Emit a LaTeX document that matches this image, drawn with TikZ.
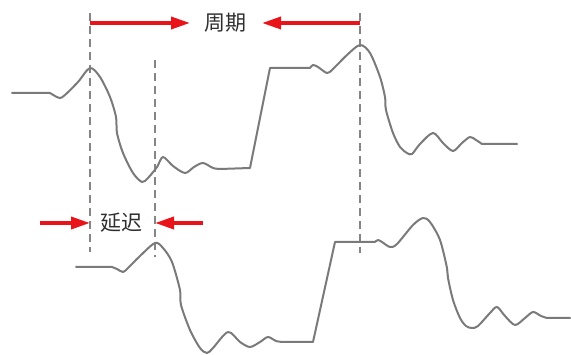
\documentclass[tikz,border=0pt]{standalone}
\usepackage{fontspec}
\newfontfamily\cjkfont{Noto Sans CJK SC}
\usetikzlibrary{arrows.meta}
\definecolor{wavegray}{HTML}{7A7A7A}
\definecolor{dashgray}{HTML}{858585}
\definecolor{arrred}{HTML}{E8141A}
\definecolor{txtgray}{HTML}{2E2E2E}
\tikzset{
  wave/.style={draw=wavegray, line width=2pt, line join=round, line cap=round},
  guide/.style={draw=dashgray, line width=1.7pt, dash pattern=on 8pt off 5pt},
  redarrow/.style={draw=arrred, line width=3.5pt, -{Triangle[length=19pt,width=12pt]}},
  lbl/.style={font=\cjkfont\fontsize{21}{21}\selectfont, text=txtgray, inner sep=0pt}
}
\begin{document}
\begin{tikzpicture}[x=1pt,y=-1pt]
\useasboundingbox (0,0) rectangle (571,355);
% guide lines
\coordinate (g1t) at (90,13);  \coordinate (g1b) at (90,252);
\coordinate (g2t) at (155,60); \coordinate (g2b) at (155,257);
\coordinate (g3t) at (360,13); \coordinate (g3b) at (360,253);
\draw[guide] (g1t) -- (g1b);
\draw[guide] (g2t) -- (g2b);
\draw[guide] (g3t) -- (g3b);
% top waveform
\draw[wave] (12,93) -- (50,93)
  plot[smooth, tension=0.5] coordinates {(50,93) (55,96) (60,98) (65,95) (78,82) (90,68) (100,77) (110,97) (116,117) (117,133) (123,153) (133,173) (142,182) (148,178) (157,167) (163,157) (173,166) (185,173) (194,167) (203,163) (213,168) (220,169)}
  -- (250,168) -- (270,68) -- (310,68)
  plot[smooth, tension=0.5] coordinates {(310,68) (313,65) (318,67) (327,73) (333,69) (347,55) (360,45) (370,53) (380,77) (385,97) (386,110) (393,133) (400,147) (407,153) (412,154) (420,144) (433,133) (443,143) (453,151) (462,143) (470,137) (476,140) (482,144)}
  -- (517,144);
% bottom waveform
\draw[wave] (76,267) -- (112,267)
  plot[smooth, tension=0.5] coordinates {(112,267) (117,269) (123,272) (128,268) (140,256) (155,243) (163,248) (172,262) (180,290) (181,305) (190,330) (200,348) (207,353) (213,348) (228,332) (240,342) (250,347) (260,342) (268,337) (276,341) (283,342)}
  -- (313,342) -- (335,242) -- (375,242)
  plot[smooth, tension=0.5] coordinates {(375,242) (378,240) (382,242) (390,247) (397,244) (413,225) (423,218) (430,222) (440,240) (447,268) (448,278) (453,300) (460,318) (466,326) (472,328) (478,326) (490,313) (497,307) (505,316) (515,325) (525,318) (533,312) (541,316) (547,318)}
  -- (570,318);
% labels
\node[lbl] (period) at (225.5,22.5) {周期};
\node[lbl] (delay) at (121.5,222.5) {延迟};
% arrows
\coordinate (pa1) at (90,23);  \coordinate (pt1) at (190,23);
\coordinate (pa2) at (360,23); \coordinate (pt2) at (262,23);
\coordinate (da1) at (40,223); \coordinate (dt1) at (90,223);
\coordinate (da2) at (203,223); \coordinate (dt2) at (155,223);
\draw[redarrow] (pa1) -- (pt1);
\draw[redarrow] (pa2) -- (pt2);
\draw[redarrow] (da1) -- (dt1);
\draw[redarrow] (da2) -- (dt2);
\end{tikzpicture}
\end{document}
